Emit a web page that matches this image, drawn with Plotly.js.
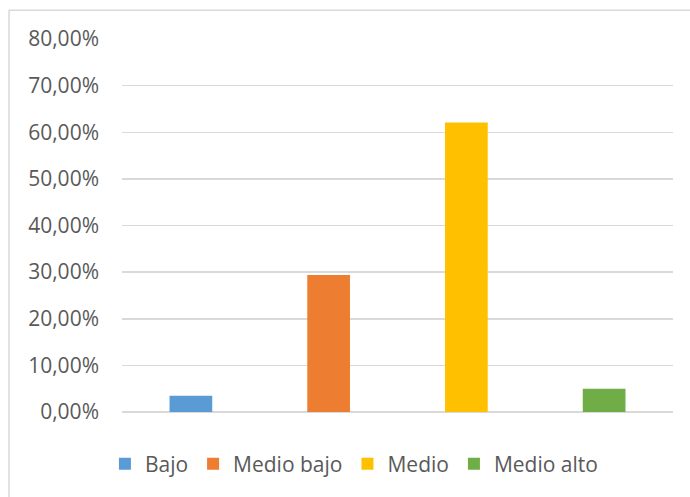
<!DOCTYPE html>
<html>
<head>
<meta charset="utf-8">
<script src="https://cdn.plot.ly/plotly-3.0.1.min.js"></script>
<style>html,body{margin:0;padding:0;background:#fff;}#chart{width:690px;height:497px;}</style>
</head>
<body>
<div id="chart"></div>
<script>
const categories = ["Bajo", "Medio bajo", "Medio", "Medio alto"];
const values = [0.035, 0.294, 0.621, 0.050];
const colors = ["#5b9bd5", "#ed7d31", "#ffc000", "#70ad47"];
const tickValues = [0, 0.1, 0.2, 0.3, 0.4, 0.5, 0.6, 0.7, 0.8];

const traces = categories.map((c, i) => ({
  type: "bar",
  name: c,
  x: [c],
  y: [values[i]],
  marker: {color: colors[i]},
  width: 0.31,
  hoverinfo: "name+y"
}));

const layout = {
  width: 690,
  height: 497,
  margin: {l: 122, r: 17, t: 39, b: 83},
  paper_bgcolor: "#ffffff",
  plot_bgcolor: "#ffffff",
  separators: ",.",
  font: {family: "Open Sans, Liberation Sans, sans-serif", size: 21, color: "#595959"},
  barmode: "overlay",
  showlegend: true,
  legend: {
    orientation: "h",
    x: -0.031, xanchor: "left",
    y: -0.14, yanchor: "middle",
    font: {size: 21, color: "#595959"},
    itemwidth: 30,
    traceorder: "normal"
  },
  xaxis: {
    categoryorder: "array",
    categoryarray: categories,
    showticklabels: false,
    showgrid: false,
    zeroline: false,
    showline: false,
    ticks: ""
  },
  yaxis: {
    range: [0, 0.8],
    tickvals: tickValues,
    tickformat: ".2%",
    showgrid: true,
    gridcolor: "#d9d9d9",
    gridwidth: 1.5,
    zeroline: true,
    zerolinecolor: "#d9d9d9",
    zerolinewidth: 1.5,
    showline: false,
    ticks: "",
    ticklabelstandoff: 22,
    tickfont: {size: 21, color: "#595959"}
  },
  shapes: [{
    type: "rect", xref: "paper", yref: "paper",
    x0: -0.205, x1: 1.2, y0: -0.4, y1: 1.077,
    line: {color: "#d9d9d9", width: 1.5},
    fillcolor: "rgba(0,0,0,0)",
    layer: "below"
  }]
};

Plotly.newPlot("chart", traces, layout, {displayModeBar: false, staticPlot: true});
</script>
</body>
</html>
